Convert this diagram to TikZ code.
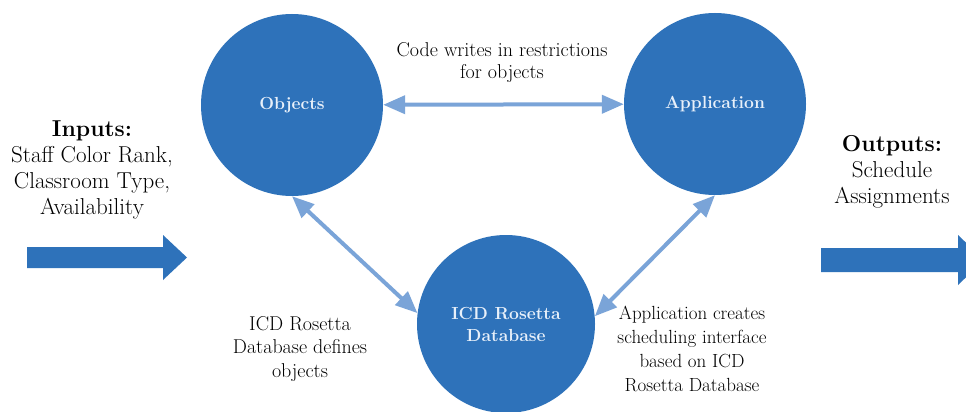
\documentclass[tikz,border=0pt]{standalone}
\usepackage{fontspec}
\usetikzlibrary{arrows.meta}
\definecolor{bubbleblue}{RGB}{46,114,186}
\definecolor{linkblue}{RGB}{122,164,216}
\definecolor{bubbletext}{RGB}{232,240,250}

\begin{document}
\begin{tikzpicture}[x=1pt,y=1pt]
\tikzstyle{every node}+=[inner sep=0pt]
\tikzstyle{bubble}=[circle, fill=bubbleblue, minimum size=182pt, text=bubbletext, align=center, font=\fontsize{17.5}{22}\selectfont\bfseries]
\tikzstyle{note}=[align=center, font=\fontsize{20}{23.5}\selectfont]
\tikzstyle{io}=[align=center, font=\fontsize{23}{26}\selectfont]
\tikzstyle{twoway}=[draw=linkblue, line width=4pt, {Triangle[length=22pt,width=18pt,fill=linkblue]}-{Triangle[length=22pt,width=18pt,fill=linkblue]}]
\clip (0,0) rectangle (966,-412);
\fill [white] (0,0) rectangle (966,-412);
% circles
\node [bubble] (obj) at (292,-105) {Objects};
\node [bubble] (app) at (715,-104) {Application};
\node [bubble, minimum size=178pt] (icd) at (506,-324) {ICD Rosetta\\Database};
% connectors
\draw [twoway] (obj) -- (app);
\draw [twoway] (obj.south) -- (icd.173);
\draw [twoway] (icd.5) -- (app.south);
% notes
\node [note, font=\fontsize{20}{22}\selectfont] (code) at (502,-63) {Code writes in restrictions\\for objects};
\node [note] (defines) at (300,-349) {ICD Rosetta\\Database defines\\objects};
\node [note, font=\fontsize{19}{24}\selectfont] (creates) at (692,-349) {Application creates\\scheduling interface\\based on ICD\\Rosetta Database};
% inputs and outputs
\node [io] (inputs) at (92,-170) {\textbf{Inputs:}\\Staff Color Rank,\\Classroom Type,\\Availability};
\node [io] (outputs) at (892,-172) {\textbf{Outputs:}\\Schedule\\Assignments};
\fill [bubbleblue] (27,-247) -- (163,-247) -- (163,-235) -- (187,-257.5) -- (163,-280) -- (163,-268) -- (27,-268) -- cycle;
\fill [bubbleblue] (821,-248) -- (958,-248) -- (958,-235) -- (984,-260) -- (958,-285) -- (958,-272) -- (821,-272) -- cycle;
\end{tikzpicture}
\end{document}
